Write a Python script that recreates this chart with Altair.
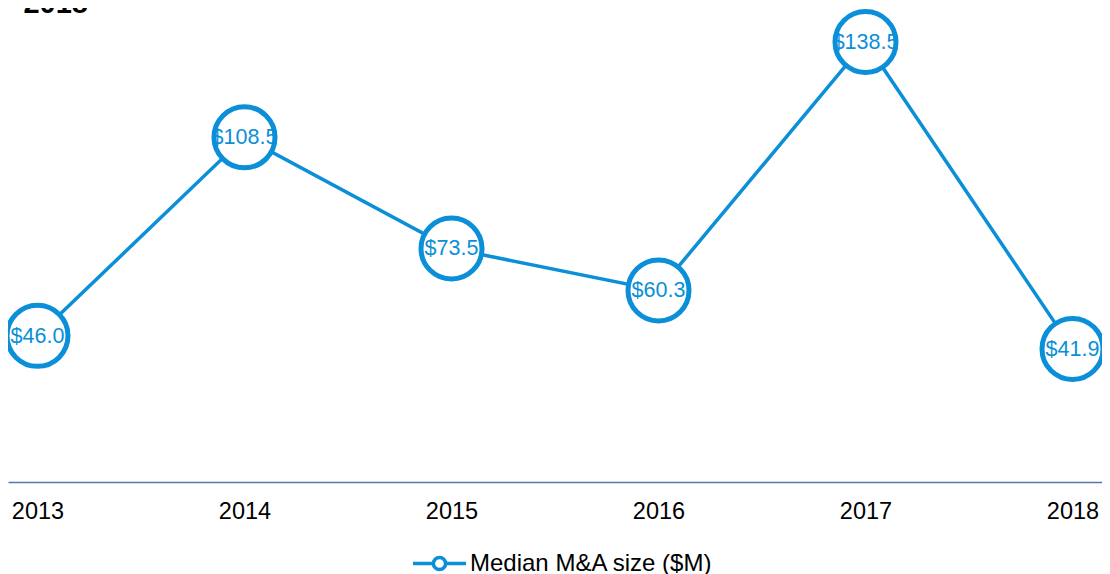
import altair as alt
import pandas as pd

years = ["2013", "2014", "2015", "2016", "2017", "2018"]
values = [46.0, 108.5, 73.5, 60.3, 138.5, 41.9]
labels = ["$46.0", "$108.5", "$73.5", "$60.3", "$138.5", "$41.9"]
series_name = "Median M&A size ($M)"
title_text = "2013 - 2018"

BLUE = "#0a8fd8"
FONT = "Liberation Sans"

df = pd.DataFrame({"year": years, "value": values, "label": labels,
                   "series": [series_name] * len(years)})

x_enc = alt.X("year:O", title=None,
              scale=alt.Scale(type="point", padding=0.1425),
              axis=alt.Axis(labelAngle=0, ticks=False, labelPadding=17,
                            labelFontSize=23.5, labelColor="black", labelFont=FONT,
                            domainColor="#5477b4", domainWidth=1.5, grid=False))
y_enc = alt.Y("value:Q", title=None, scale=alt.Scale(domain=[0, 149.2], nice=False, zero=True),
              axis=None)

base = alt.Chart(df)

legend_path = ("M-1,0H-0.23M0.23,0H1"
               "M-0.23,0A0.23,0.23,0,1,0,0.23,0A0.23,0.23,0,1,0,-0.23,0")

line = base.mark_line(strokeWidth=3.5).encode(
    x=x_enc, y=y_enc,
    color=alt.Color("series:N", scale=alt.Scale(range=[BLUE]),
                    legend=alt.Legend(title=None, orient="none", legendX=403, legendY=527,
                                      symbolType=legend_path, symbolSize=2809,
                                      symbolStrokeWidth=3.5, symbolFillColor="white",
                                      labelFontSize=24, labelFont=FONT, labelColor="black",
                                      labelOffset=2, padding=0, labelLimit=400)))

points = base.mark_point(shape="circle", filled=True, fill="white", stroke=BLUE,
                         strokeWidth=5, size=3721, opacity=1).encode(x=x_enc, y=y_enc)

texts = base.mark_text(fontSize=21.5, font=FONT, color=BLUE, baseline="middle", dy=1).encode(
    x=x_enc, y=y_enc, text="label:N")

title = alt.Chart(pd.DataFrame({"t": [title_text]})).mark_text(
    fontSize=29, font=FONT, fontWeight="bold", color="black", align="right",
    baseline="alphabetic").encode(text="t:N", x=alt.value(80), y=alt.value(5))

chart = alt.layer(line, points, texts, title).properties(
    width=1094, height=474,
    autosize=alt.AutoSizeParams(type="none"),
    padding={"left": 0, "top": 0, "right": 0, "bottom": 92},
).configure_view(stroke=None)

chart.save("out.html", embed_options={"renderer": "svg", "actions": False})
